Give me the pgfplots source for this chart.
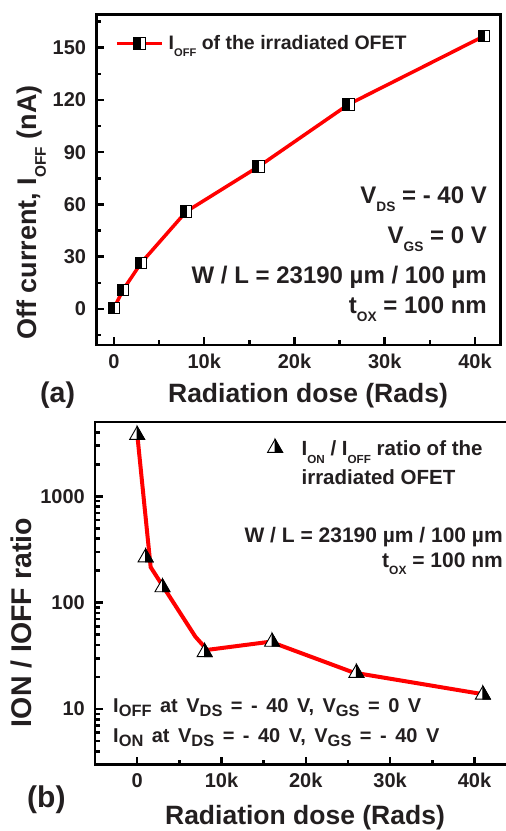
\documentclass[border=0pt]{standalone}
\usepackage{fontspec}
\setmainfont{Liberation Sans}
\usepackage{pgfplots}
\pgfplotsset{compat=1.18}
\usetikzlibrary{plotmarks}
\definecolor{txt}{HTML}{231F20}

\newcommand{\fsz}[1]{\fontsize{#1}{#1}\selectfont\bfseries}
\newcommand{\sub}[1]{\raisebox{-0.37em}{\scalebox{0.57}{#1}}}
\newcommand{\bsub}[1]{\raisebox{-0.2em}{\scalebox{0.82}{#1}}}

% square, left half black
\pgfdeclareplotmark{halfsq}{%
  \pgfpathrectangle{\pgfqpoint{-\pgfplotmarksize}{-\pgfplotmarksize}}{\pgfqpoint{2\pgfplotmarksize}{2\pgfplotmarksize}}%
  \pgfsetfillcolor{white}\pgfusepathqfillstroke
  \pgfpathrectangle{\pgfqpoint{-\pgfplotmarksize}{-\pgfplotmarksize}}{\pgfqpoint{1.1\pgfplotmarksize}{2\pgfplotmarksize}}%
  \pgfsetfillcolor{black}\pgfusepathqfillstroke
}
% triangle, right half black
\pgfdeclareplotmark{halftri}{%
  \pgfpathmoveto{\pgfqpoint{0pt}{0.87\pgfplotmarksize}}%
  \pgfpathlineto{\pgfqpoint{\pgfplotmarksize}{-0.87\pgfplotmarksize}}%
  \pgfpathlineto{\pgfqpoint{-\pgfplotmarksize}{-0.87\pgfplotmarksize}}%
  \pgfpathclose
  \pgfsetfillcolor{white}\pgfusepathqfillstroke
  \pgfpathmoveto{\pgfqpoint{0pt}{0.87\pgfplotmarksize}}%
  \pgfpathlineto{\pgfqpoint{\pgfplotmarksize}{-0.87\pgfplotmarksize}}%
  \pgfpathlineto{\pgfqpoint{0pt}{-0.87\pgfplotmarksize}}%
  \pgfpathclose
  \pgfsetfillcolor{black}\pgfusepathqfillstroke
}

\pgfplotsset{
  panel/.style={
    scale only axis,
    anchor=north west,
    axis line style={line width=2.7pt, black},
    tick style={line width=2.5pt, black},
    tick align=inside, tick pos=left,
    major tick length=8pt, minor tick length=5pt,
    tick label style={font=\fsz{20}, text=txt},
    /pgf/number format/assume math mode=true,
    scaled x ticks=false,
    xtick={0,10000,20000,30000,40000},
    xticklabels={0,10k,20k,30k,40k},
    minor xtick={5000,15000,25000,35000},
    xticklabel style={anchor=base, inner sep=0pt, yshift=-23pt},
    yticklabel style={anchor=east, inner sep=0pt, xshift=-10pt},
    legend style={draw=none, fill=none, inner sep=0pt, text=txt},
  },
}

\begin{document}
\begin{tikzpicture}
\path[use as bounding box] (0pt,0pt) rectangle (506pt,-831pt);

% (a) off current
\begin{axis}[panel,
  at={(96.3pt,-14.3pt)}, width=404.2pt, height=330.7pt,
  xmin=-1960, xmax=42830, ymin=-20.7, ymax=169.2,
  ytick={0,30,60,90,120,150},
  minor ytick={-15,15,45,75,105,135,165},
  legend style={at={(axis description cs:0.0463,0.912)}, anchor=west,
    font=\fsz{19.5}, column sep=3pt},
  legend image code/.code={\draw[mark repeat=2,mark phase=2] plot coordinates {(0pt,0pt) (22.5pt,0pt) (45pt,0pt)};},
]
\addplot[red, line width=3.5pt, mark=halfsq, mark size=5.7pt,
  mark options={draw=black, line width=1pt, solid}]
  coordinates {(0,0.5) (1000,10.9) (3000,26.4) (8000,55.9) (16000,81.7) (26000,117.5) (41000,156.7)};
\addlegendentry{I\sub{OFF} of the irradiated OFET}
\end{axis}

% (b) on/off ratio
\begin{axis}[panel,
  at={(95pt,-422pt)}, width=417.4pt, height=342.7pt,
  xmin=-5000, xmax=44500, ymode=log, ymin=3, ymax=5000,
  ytick={10,100,1000}, yticklabels={10,100,1000},
  minor ytick={3,4,5,6,7,8,9,20,30,40,50,60,70,80,90,200,300,400,500,600,700,800,900,2000,3000,4000},
  legend style={at={(axis description cs:0.413,0.952)}, anchor=north west,
    font=\fsz{20.5}, column sep=17pt},
  legend image code/.code={\draw[only marks] plot coordinates {(7.5pt,0.3em)};},
]
\addplot[only marks, mark=halftri, mark size=7.5pt, mark options={draw=black, line width=0.9pt}]
  coordinates {(0,3950) (1000,279) (3000,146) (8000,35.9) (16000,44.9) (26000,22.9) (41000,14.3)};
\addlegendentry{\begin{tabular}[t]{@{}l@{}}I\sub{ON} / I\sub{OFF} ratio of the\\[8pt]irradiated OFET\end{tabular}}
\addplot[red, line width=4pt, forget plot]
  coordinates {(0,3900) (1600,216) (6900,48) (8300,36) (15800,43) (25700,22) (41500,13.6)};
\end{axis}

\begin{scope}[every node/.style={inner sep=0pt, text=txt}]
% panel (a) texts
\node[anchor=base east, font=\fsz{24}] at (487pt,-203pt) {V\sub{DS} = - 40 V};
\node[anchor=base east, font=\fsz{24}] at (487pt,-243pt) {V\sub{GS} = 0 V};
\node[anchor=base east, font=\fsz{24}] at (487pt,-283pt) {W / L = 23190 µm / 100 µm};
\node[anchor=base east, font=\fsz{24}] at (487pt,-313pt) {t\sub{OX} = 100 nm};
\node[anchor=base, font=\fsz{26.5}] at (308pt,-402pt) {Radiation dose (Rads)};
\node[anchor=base west, font=\fsz{28.5}] at (40pt,-402pt) {(a)};
\node[rotate=90, anchor=base, font=\fsz{27}] at (36pt,-212.5pt) {Off current, I\sub{OFF} (nA)};
% panel (b) texts
\node[anchor=base east, font=\fsz{21}] at (503pt,-542pt) {W / L = 23190 µm / 100 µm};
\node[anchor=base east, font=\fsz{21}] at (503pt,-567pt) {t\sub{OX} = 100 nm};
\node[anchor=base west, font=\fsz{20}] at (113pt,-712pt) {\spaceskip=8.5pt\relax I\bsub{OFF} at V\bsub{DS} = - 40 V, V\bsub{GS} = 0 V};
\node[anchor=base west, font=\fsz{20}] at (113pt,-742pt) {\spaceskip=8.5pt\relax I\bsub{ON} at V\bsub{DS} = - 40 V, V\bsub{GS} = - 40 V};
\node[anchor=base, font=\fsz{26.5}] at (305pt,-824pt) {Radiation dose (Rads)};
\node[anchor=base west, font=\fsz{30}] at (27pt,-807pt) {(b)};
\node[rotate=90, anchor=base, font=\fsz{28.5}] at (31.7pt,-622.5pt) {ION / IOFF ratio};
\end{scope}
\end{tikzpicture}
\end{document}
